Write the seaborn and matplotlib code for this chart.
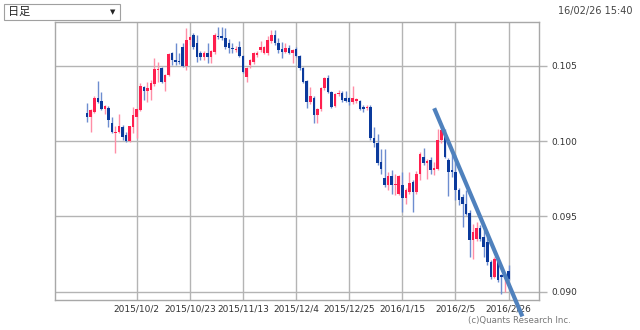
import numpy as np
import pandas as pd
import matplotlib
matplotlib.use("Agg")
import matplotlib.pyplot as plt
import matplotlib.patches as mpatches
import seaborn as sns

# ---------------- data (KRW/JPY-like daily candles) ----------------
opens = [
    .10186, .10160, .10193, .10286, .10266, .10213, .10219, .10120, .10053, .10060,
    .10093, .10040, .10000, .10093, .10160, .10206, .10359, .10333, .10339, .10379,
    .10472, .10485, .10392, .10439, .10585, .10539, .10535, .10625, .10499, .10672,
    .10705, .10652, .10585, .10559, .10585, .10559, .10592, .10699, .10699, .10685,
    .10652, .10618, .10605, .10625, .10565, .10426, .10505, .10525, .10572, .10605,
    .10585, .10585, .10665, .10705, .10652, .10612, .10592, .10618, .10585, .10612,
    .10565, .10485, .10399, .10259, .10286, .10173, .10213, .10352, .10419, .10326,
    .10233, .10313, .10319, .10286, .10286, .10259, .10266, .10266, .10226, .10219,
    .10226, .10020, .09987, .09862, .09758, .09707, .09767, .09707, .09652, .09707,
    .09625, .09663, .09730, .09663, .09785, .09896, .09852, .09874, .09807, .09818,
    .10007, .10051, .09878, .09807, .09796, .09678, .09630, .09585, .09525, .09346,
    .09353, .09426, .09364, .09331, .09197, .09098, .09220, .09109, .09098, .09138,
]
highs = [
    .10253, .10213, .10299, .10399, .10326, .10240, .10233, .10160, .10100, .10180,
    .10110, .10060, .10100, .10226, .10220, .10386, .10370, .10392, .10406, .10552,
    .10525, .10492, .10445, .10585, .10595, .10652, .10585, .10652, .10752, .10700,
    .10720, .10705, .10600, .10600, .10652, .10605, .10720, .10758, .10758, .10750,
    .10680, .10652, .10630, .10665, .10575, .10490, .10545, .10590, .10600, .10665,
    .10635, .10699, .10738, .10738, .10685, .10658, .10652, .10640, .10612, .10625,
    .10575, .10490, .10405, .10359, .10300, .10220, .10359, .10426, .10439, .10335,
    .10320, .10339, .10333, .10333, .10295, .10366, .10290, .10275, .10240, .10240,
    .10240, .10093, .10050, .09951, .09945, .09796, .09807, .09785, .09775, .09796,
    .09690, .09796, .09745, .09800, .09929, .09958, .09880, .09896, .09862, .10078,
    .10095, .10078, .09890, .09918, .09918, .09690, .09650, .09674, .09540, .09453,
    .09464, .09440, .09408, .09364, .09208, .09230, .09230, .09120, .09120, .09175,
]
lows = [
    .10126, .10060, .10186, .10253, .10206, .10180, .10093, .10053, .09920, .10053,
    .10007, .09993, .09993, .10053, .10020, .10200, .10273, .10259, .10273, .10370,
    .10392, .10385, .10333, .10430, .10505, .10505, .10510, .10490, .10472, .10640,
    .10610, .10525, .10540, .10540, .10519, .10519, .10580, .10680, .10670, .10610,
    .10585, .10585, .10590, .10559, .10452, .10392, .10485, .10515, .10560, .10590,
    .10580, .10575, .10650, .10640, .10585, .10552, .10585, .10580, .10519, .10560,
    .10472, .10386, .10219, .10250, .10120, .10120, .10200, .10340, .10320, .10219,
    .10225, .10300, .10259, .10260, .10240, .10250, .10255, .10210, .10193, .10205,
    .10010, .09960, .09840, .09785, .09696, .09674, .09652, .09641, .09641, .09530,
    .09585, .09650, .09530, .09650, .09741, .09840, .09752, .09785, .09774, .09810,
    .09990, .09890, .09634, .09763, .09608, .09574, .09430, .09508, .09230, .09219,
    .09340, .09340, .09230, .09175, .09087, .09090, .09064, .08987, .08998, .09080,
]
closes = [
    .10160, .10206, .10286, .10259, .10213, .10233, .10140, .10060, .10060, .10100,
    .10027, .10000, .10100, .10173, .10213, .10366, .10333, .10352, .10386, .10479,
    .10479, .10392, .10439, .10579, .10539, .10525, .10525, .10499, .10672, .10692,
    .10625, .10559, .10559, .10585, .10559, .10599, .10705, .10692, .10685, .10625,
    .10618, .10612, .10612, .10565, .10459, .10485, .10539, .10585, .10585, .10625,
    .10625, .10672, .10705, .10652, .10605, .10592, .10618, .10585, .10605, .10565,
    .10485, .10392, .10259, .10299, .10173, .10213, .10352, .10419, .10326, .10226,
    .10313, .10319, .10273, .10266, .10259, .10286, .10280, .10213, .10213, .10226,
    .10020, .09987, .09854, .09818, .09707, .09767, .09707, .09718, .09767, .09625,
    .09674, .09723, .09663, .09785, .09914, .09852, .09869, .09807, .09825, .10007,
    .10073, .09896, .09796, .09796, .09674, .09608, .09585, .09519, .09346, .09397,
    .09426, .09353, .09297, .09197, .09098, .09220, .09076, .09098, .09109, .09087,
]
tick_labels = ["2015/10/2", "2015/10/23", "2015/11/13", "2015/12/4",
               "2015/12/25", "2016/1/15", "2016/2/5", "2016/2/26"]
tick_index = [14, 29, 44, 59, 74, 89, 104, 119]
y_ticks = [0.090, 0.095, 0.100, 0.105]
trend_x = [98.0, 122.9]
trend_y = [0.10219, 0.08836]

# ---------------- styling ----------------
sns.set_theme(style="white")
plt.rcParams["font.family"] = ["DejaVu Sans", "Noto Sans CJK JP"]

UP_BODY, UP_WICK = "#ff1f4e", "#ff8ea6"
DN_BODY, DN_WICK = "#0b3a9c", "#6d8dd0"
GRID = "#b4b4b4"

df = pd.DataFrame({"o": opens, "h": highs, "l": lows, "c": closes})
df["i"] = np.arange(len(df))
df["up"] = df["c"] >= df["o"]

W, H = 640, 330
fig = plt.figure(figsize=(W / 100, H / 100), dpi=100)
ax = fig.add_axes([55 / W, 1 - 300 / H, (539 - 55) / W, (300 - 21.7) / H])

ax.set_xlim(-9.08, 127.6)
ax.set_ylim(0.08945, 0.10794)

# grid
for t in tick_index:
    ax.axvline(t, color=GRID, lw=1.0, zorder=0)
for t in y_ticks:
    ax.axhline(t, color=GRID, lw=1.0, zorder=0)

# wicks
wick_cols = np.where(df["up"], UP_WICK, DN_WICK)
ax.vlines(df["i"], df["l"], df["h"], colors=wick_cols, lw=1.0, zorder=2)

# bodies
bottoms = np.minimum(df["o"], df["c"])
heights = np.maximum(np.abs(df["c"] - df["o"]), 0.00009)
body_cols = np.where(df["up"], UP_BODY, DN_BODY)
ax.bar(df["i"], heights, bottom=bottoms, width=0.72, color=body_cols,
       linewidth=0, zorder=3)

# trend line
tdf = pd.DataFrame({"x": trend_x, "y": trend_y})
sns.lineplot(data=tdf, x="x", y="y", ax=ax, color="#4f81bd", lw=3.0,
             solid_capstyle="butt", zorder=5)
for ln in ax.lines[-1:]:
    ln.set_clip_on(False)

ax.set_xlabel("")
ax.set_ylabel("")
ax.set_xticks(tick_index)
ax.set_xticklabels(tick_labels)
ax.set_yticks(y_ticks)
ax.set_yticklabels([f"{v:.3f}" for v in y_ticks])
ax.yaxis.tick_right()
ax.tick_params(axis="y", length=6, width=1.0, color=GRID, pad=3,
               labelsize=6.5, labelcolor="#333333")
ax.tick_params(axis="x", length=0, pad=3, labelsize=6.5, labelcolor="#333333")
for s in ax.spines.values():
    s.set_color("#a8a8a8")
    s.set_linewidth(1.0)

# header widgets
fig.patches.append(mpatches.Rectangle((4 / W, 1 - 20 / H), 116 / W, 16 / H,
                                      transform=fig.transFigure, facecolor="white",
                                      edgecolor="#a0a0a0", lw=0.8))
fig.text(8 / W, 1 - 12 / H, "日足", family=["Noto Sans CJK JP", "DejaVu Sans"],
         fontsize=8, va="center", ha="left", color="#222222")
fig.text(113 / W, 1 - 12 / H, "▼", fontsize=5, va="center", ha="center",
         color="#222222")
fig.text(632 / W, 1 - 11 / H, "16/02/26 15:40", fontsize=7, va="center",
         ha="right", color="#444444")
fig.text(519 / W, 1 - 320 / H, "(c)Quants Research Inc.", fontsize=6.2,
         va="center", ha="center", color="#777777")

fig.savefig("out.png", dpi=100)
